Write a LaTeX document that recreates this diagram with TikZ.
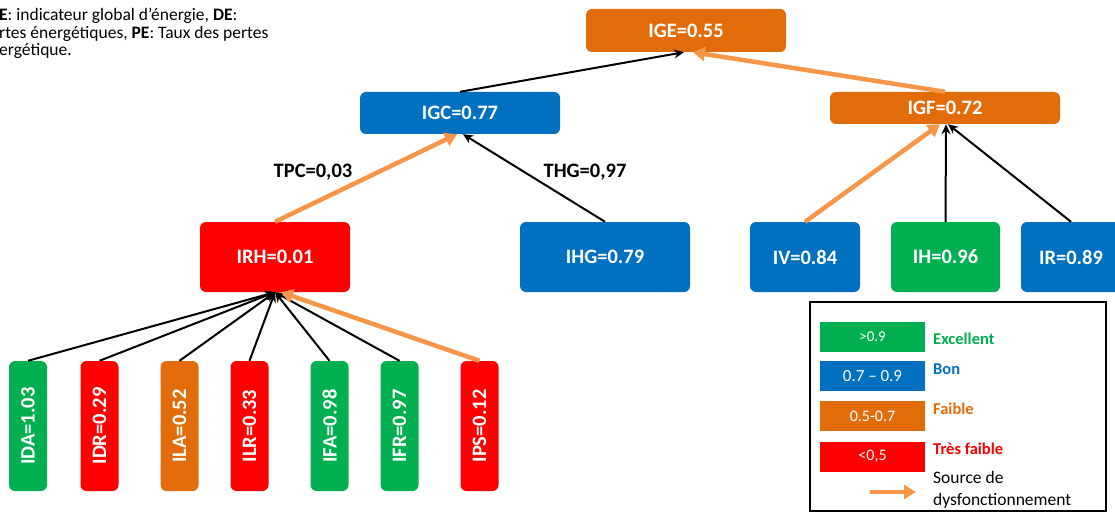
\documentclass[tikz,border=0pt]{standalone}
\usepackage{fontspec}
\setmainfont{Carlito}
\usetikzlibrary{arrows.meta}
\definecolor{cOrange}{HTML}{E36C0A}
\definecolor{cBlue}{HTML}{0070C0}
\definecolor{cGreen}{HTML}{00B050}
\definecolor{cRed}{HTML}{FF0000}
\definecolor{cArrow}{HTML}{F79646}
\tikzset{
  ibox/.style={rounded corners=6pt, text=white, inner sep=0pt,
    font=\bfseries\fontsize{20.5}{24}\selectfont},
  vbox/.style={ibox, minimum width=38pt, minimum height=130pt},
  blk/.style={draw=black, line width=2pt, -{Stealth[length=10pt,width=9pt]}},
  org/.style={draw=cArrow, line width=4.5pt, -{Triangle[length=12pt,width=14pt]}},
  swatch/.style={inner sep=0pt, text=white, minimum width=105pt, minimum height=30pt,
    font=\fontsize{16}{19}\selectfont},
  leglab/.style={anchor=west, inner sep=0pt, font=\bfseries\fontsize{16.5}{19}\selectfont},
  edgelab/.style={inner sep=0pt, font=\bfseries\fontsize{20.5}{24}\selectfont},
}
\begin{document}
\begin{tikzpicture}[x=1pt,y=-1pt]
\useasboundingbox (0,0) rectangle (1115,513);

% top-left note
\node (note) [anchor=north west, inner sep=0pt, align=left,
  font=\fontsize{17.5}{17.5}\selectfont] at (-1,8)
  {\textbf{E}: indicateur global d’énergie, \textbf{DE}:\\
   rtes énergétiques, \textbf{PE}: Taux des pertes\\
   ergétique.};

% main nodes
\node (ige) [ibox, fill=cOrange, minimum width=200pt, minimum height=43pt] at (686,30.5) {IGE=0.55};
\node (igc) [ibox, fill=cBlue, minimum width=200pt, minimum height=42pt] at (460,113) {IGC=0.77};
\node (igf) [ibox, fill=cOrange, minimum width=230pt, minimum height=32pt] at (945,108) {IGF=0.72};
\node (irh) [ibox, fill=cRed, minimum width=150pt, minimum height=70pt] at (275,257) {IRH=0.01};
\node (ihg) [ibox, fill=cBlue, minimum width=170pt, minimum height=70pt] at (605,257) {IHG=0.79};
\node (iv) [ibox, fill=cBlue, minimum width=110pt, minimum height=70pt] at (805,257) {IV=0.84};
\node (ih) [ibox, fill=cGreen, minimum width=109pt, minimum height=70pt] at (945.5,257) {IH=0.96};
\node (ir) [ibox, fill=cBlue, minimum width=100pt, minimum height=70pt] at (1071,257) {IR=0.89};

% bottom nodes
\node (ida) [vbox, fill=cGreen] at (28,426) {\rotatebox{90}{IDA=1.03}};
\node (idr) [vbox, fill=cRed] at (99.5,426) {\rotatebox{90}{IDR=0.29}};
\node (ila) [vbox, fill=cOrange] at (179.5,426) {\rotatebox{90}{ILA=0.52}};
\node (ilr) [vbox, fill=cRed] at (249.5,426) {\rotatebox{90}{ILR=0.33}};
\node (ifa) [vbox, fill=cGreen] at (329.5,426) {\rotatebox{90}{IFA=0.98}};
\node (ifr) [vbox, fill=cGreen] at (399.5,426) {\rotatebox{90}{IFR=0.97}};
\node (ips) [vbox, fill=cRed] at (479.5,426) {\rotatebox{90}{IPS=0.12}};

% edge labels
\node (tpc) [edgelab] at (313,172) {TPC=0,03};
\node (thg) [edgelab] at (585,172) {THG=0,97};

% connectors bottom -> IRH
\draw[blk] (ida.north) -- (irh.south);
\draw[blk] (idr.north) -- (irh.south);
\draw[blk] (ila.north) -- (irh.south);
\draw[blk] (ilr.north) -- (irh.south);
\draw[blk] (ifa.north) -- (irh.south);
\draw[blk] (ifr.north) -- (irh.south);
\draw[org] (ips.north) -- ([xshift=6pt]irh.south);

% to IGC
\draw[org] (irh.north) -- ([xshift=-3pt]igc.south);
\draw[blk] (ihg.north) -- ([xshift=3pt]igc.south);

% to IGF
\draw[org] (iv.north) -- ([xshift=-5pt]igf.south);
\draw[blk] (ih.north) -- ([xshift=1pt]igf.south);
\draw[blk] (ir.north) -- ([xshift=3pt]igf.south);

% to IGE
\draw[blk] (igc.north) -- ([xshift=-2pt]ige.south);
\draw[org] (igf.north) -- ([xshift=7pt]ige.south);

% legend
\node (legframe) [draw=black, line width=1.2pt, inner sep=0pt, minimum width=296pt, minimum height=209pt] at (958,406.5) {};
\node (sw1) [swatch, fill=cGreen, font=\fontsize{15}{18}\selectfont] at (872.5,336.5) {>0.9};
\node (sw2) [swatch, fill=cBlue, font=\fontsize{17}{20}\selectfont] at (872.5,376) {0.7 – 0.9};
\node (sw3) [swatch, fill=cOrange] at (872.5,416) {0.5-0.7};
\node (sw4) [swatch, fill=cRed] at (872.5,456.5) {<0,5};
\node (l1) [leglab, text=cGreen] at (933,339) {Excellent};
\node (l2) [leglab, text=cBlue] at (933,369) {Bon};
\node (l3) [leglab, text=cOrange] at (933,409) {Faible};
\node (l4) [leglab, text=cRed] at (933,449) {Très faible};
\node (l5) [anchor=west, inner sep=0pt, align=left, font=\fontsize{17.5}{22}\selectfont] at (933,490) {Source de\\dysfonctionnement};
\coordinate (la1) at (870,492);
\coordinate (la2) at (916,492);
\draw[org] (la1) -- (la2);
\end{tikzpicture}
\end{document}
